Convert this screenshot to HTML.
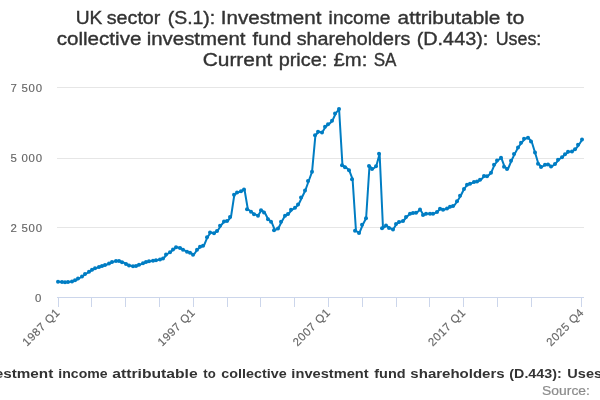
<!DOCTYPE html>
<html><head><meta charset="utf-8"><title>UK sector (S.1): Investment income attributable to collective investment fund shareholders (D.443): Uses: Current price: £m: SA</title>
<style>
html,body{margin:0;padding:0;background:#fff;}
body{width:600px;height:400px;overflow:hidden;font-family:"Liberation Sans",sans-serif;}
svg{display:block;overflow:hidden;will-change:transform;font-family:"Liberation Sans",sans-serif;}
</style></head><body>
<svg width="600" height="400" viewBox="0 0 600 400">
<rect x="0" y="0" width="600" height="400" fill="#ffffff"/>
<g fill="none" stroke="#e6e6e6" stroke-width="1"><path d="M 57 87.5 L 584 87.5"/><path d="M 57 158.5 L 584 158.5"/><path d="M 57 227.5 L 584 227.5"/></g>
<g fill="none" stroke="#ccd6eb" stroke-width="1"><path d="M 57 297.5 L 584 297.5"/><path d="M 58.5 297 L 58.5 307"/><path d="M 91.5 297 L 91.5 307"/><path d="M 125.5 297 L 125.5 307"/><path d="M 159.5 297 L 159.5 307"/><path d="M 193.5 297 L 193.5 307"/><path d="M 227.5 297 L 227.5 307"/><path d="M 260.5 297 L 260.5 307"/><path d="M 294.5 297 L 294.5 307"/><path d="M 328.5 297 L 328.5 307"/><path d="M 362.5 297 L 362.5 307"/><path d="M 396.5 297 L 396.5 307"/><path d="M 429.5 297 L 429.5 307"/><path d="M 463.5 297 L 463.5 307"/><path d="M 497.5 297 L 497.5 307"/><path d="M 531.5 297 L 531.5 307"/><path d="M 581.5 297 L 581.5 307"/></g>
<g><path d="M 58.69 281.80 L 62.07 282.10 L 65.45 282.20 L 68.82 282.10 L 72.20 281.50 L 75.58 280.30 L 78.96 278.50 L 82.34 276.50 L 85.71 274.00 L 89.09 271.80 L 92.47 269.80 L 95.85 268.30 L 99.23 267.00 L 102.61 266.00 L 105.98 265.00 L 109.36 263.50 L 112.74 261.90 L 116.12 261.10 L 119.50 261.10 L 122.88 262.20 L 126.25 264.00 L 129.63 265.50 L 133.01 266.20 L 136.39 266.00 L 139.77 264.80 L 143.14 263.20 L 146.52 262.00 L 149.90 261.20 L 153.28 260.70 L 156.66 260.30 L 160.04 259.50 L 163.41 258.50 L 166.79 254.50 L 170.17 252.20 L 173.55 249.50 L 176.93 247.20 L 180.30 248.00 L 183.68 249.80 L 187.06 251.80 L 190.44 252.80 L 193.82 254.70 L 197.20 249.70 L 200.57 246.70 L 203.95 245.70 L 207.33 237.30 L 210.71 232.50 L 214.09 233.20 L 217.46 231.00 L 220.84 225.70 L 224.22 221.50 L 227.60 221.00 L 230.98 217.00 L 234.36 194.70 L 237.73 192.50 L 241.11 191.20 L 244.49 189.50 L 247.87 209.30 L 251.25 211.80 L 254.62 214.20 L 258.00 215.70 L 261.38 210.20 L 264.76 212.50 L 268.14 219.30 L 271.52 221.80 L 274.89 230.20 L 278.27 228.50 L 281.65 221.80 L 285.03 215.80 L 288.41 214.00 L 291.79 209.80 L 295.16 207.80 L 298.54 204.50 L 301.92 197.50 L 305.30 190.50 L 308.68 181.00 L 312.05 171.80 L 315.43 135.20 L 318.81 131.80 L 322.19 132.50 L 325.57 126.80 L 328.95 124.30 L 332.32 120.80 L 335.70 113.50 L 339.08 109.00 L 342.46 165.30 L 345.84 167.20 L 349.21 170.30 L 352.59 179.20 L 355.97 230.80 L 359.35 233.00 L 362.73 224.80 L 366.11 218.30 L 369.48 166.00 L 372.86 169.00 L 376.24 166.30 L 379.62 153.80 L 383.00 228.20 L 386.38 225.60 L 389.75 228.00 L 393.13 229.50 L 396.51 224.00 L 399.89 222.00 L 403.27 221.00 L 406.64 217.00 L 410.02 213.70 L 413.40 213.00 L 416.78 212.80 L 420.16 209.50 L 423.54 215.00 L 426.91 213.80 L 430.29 213.80 L 433.67 213.80 L 437.05 211.90 L 440.43 208.70 L 443.80 209.80 L 447.18 208.50 L 450.56 206.80 L 453.94 206.00 L 457.32 201.20 L 460.70 195.80 L 464.07 189.00 L 467.45 184.70 L 470.83 183.70 L 474.21 182.00 L 477.59 181.50 L 480.96 179.70 L 484.34 176.10 L 487.72 176.30 L 491.10 172.80 L 494.48 164.80 L 497.86 160.50 L 501.23 157.70 L 504.61 166.80 L 507.99 169.00 L 511.37 160.80 L 514.75 153.90 L 518.12 147.50 L 521.50 142.80 L 524.88 138.80 L 528.26 137.80 L 531.64 141.50 L 535.02 152.50 L 538.39 163.70 L 541.77 167.00 L 545.15 164.80 L 548.53 164.50 L 551.91 166.50 L 555.29 163.90 L 558.66 159.80 L 562.04 157.20 L 565.42 154.30 L 568.80 151.70 L 572.18 151.50 L 575.55 149.20 L 578.93 144.80 L 582.31 139.50" fill="none" stroke="#007dc3" stroke-width="2" stroke-linejoin="round" stroke-linecap="round"/>
<g fill="#007dc3"><circle cx="58" cy="281.80" r="2"/><circle cx="62" cy="282.10" r="2"/><circle cx="65" cy="282.20" r="2"/><circle cx="68" cy="282.10" r="2"/><circle cx="72" cy="281.50" r="2"/><circle cx="75" cy="280.30" r="2"/><circle cx="78" cy="278.50" r="2"/><circle cx="82" cy="276.50" r="2"/><circle cx="85" cy="274.00" r="2"/><circle cx="89" cy="271.80" r="2"/><circle cx="92" cy="269.80" r="2"/><circle cx="95" cy="268.30" r="2"/><circle cx="99" cy="267.00" r="2"/><circle cx="102" cy="266.00" r="2"/><circle cx="105" cy="265.00" r="2"/><circle cx="109" cy="263.50" r="2"/><circle cx="112" cy="261.90" r="2"/><circle cx="116" cy="261.10" r="2"/><circle cx="119" cy="261.10" r="2"/><circle cx="122" cy="262.20" r="2"/><circle cx="126" cy="264.00" r="2"/><circle cx="129" cy="265.50" r="2"/><circle cx="133" cy="266.20" r="2"/><circle cx="136" cy="266.00" r="2"/><circle cx="139" cy="264.80" r="2"/><circle cx="143" cy="263.20" r="2"/><circle cx="146" cy="262.00" r="2"/><circle cx="149" cy="261.20" r="2"/><circle cx="153" cy="260.70" r="2"/><circle cx="156" cy="260.30" r="2"/><circle cx="160" cy="259.50" r="2"/><circle cx="163" cy="258.50" r="2"/><circle cx="166" cy="254.50" r="2"/><circle cx="170" cy="252.20" r="2"/><circle cx="173" cy="249.50" r="2"/><circle cx="176" cy="247.20" r="2"/><circle cx="180" cy="248.00" r="2"/><circle cx="183" cy="249.80" r="2"/><circle cx="187" cy="251.80" r="2"/><circle cx="190" cy="252.80" r="2"/><circle cx="193" cy="254.70" r="2"/><circle cx="197" cy="249.70" r="2"/><circle cx="200" cy="246.70" r="2"/><circle cx="203" cy="245.70" r="2"/><circle cx="207" cy="237.30" r="2"/><circle cx="210" cy="232.50" r="2"/><circle cx="214" cy="233.20" r="2"/><circle cx="217" cy="231.00" r="2"/><circle cx="220" cy="225.70" r="2"/><circle cx="224" cy="221.50" r="2"/><circle cx="227" cy="221.00" r="2"/><circle cx="230" cy="217.00" r="2"/><circle cx="234" cy="194.70" r="2"/><circle cx="237" cy="192.50" r="2"/><circle cx="241" cy="191.20" r="2"/><circle cx="244" cy="189.50" r="2"/><circle cx="247" cy="209.30" r="2"/><circle cx="251" cy="211.80" r="2"/><circle cx="254" cy="214.20" r="2"/><circle cx="258" cy="215.70" r="2"/><circle cx="261" cy="210.20" r="2"/><circle cx="264" cy="212.50" r="2"/><circle cx="268" cy="219.30" r="2"/><circle cx="271" cy="221.80" r="2"/><circle cx="274" cy="230.20" r="2"/><circle cx="278" cy="228.50" r="2"/><circle cx="281" cy="221.80" r="2"/><circle cx="285" cy="215.80" r="2"/><circle cx="288" cy="214.00" r="2"/><circle cx="291" cy="209.80" r="2"/><circle cx="295" cy="207.80" r="2"/><circle cx="298" cy="204.50" r="2"/><circle cx="301" cy="197.50" r="2"/><circle cx="305" cy="190.50" r="2"/><circle cx="308" cy="181.00" r="2"/><circle cx="312" cy="171.80" r="2"/><circle cx="315" cy="135.20" r="2"/><circle cx="318" cy="131.80" r="2"/><circle cx="322" cy="132.50" r="2"/><circle cx="325" cy="126.80" r="2"/><circle cx="328" cy="124.30" r="2"/><circle cx="332" cy="120.80" r="2"/><circle cx="335" cy="113.50" r="2"/><circle cx="339" cy="109.00" r="2"/><circle cx="342" cy="165.30" r="2"/><circle cx="345" cy="167.20" r="2"/><circle cx="349" cy="170.30" r="2"/><circle cx="352" cy="179.20" r="2"/><circle cx="355" cy="230.80" r="2"/><circle cx="359" cy="233.00" r="2"/><circle cx="362" cy="224.80" r="2"/><circle cx="366" cy="218.30" r="2"/><circle cx="369" cy="166.00" r="2"/><circle cx="372" cy="169.00" r="2"/><circle cx="376" cy="166.30" r="2"/><circle cx="379" cy="153.80" r="2"/><circle cx="382" cy="228.20" r="2"/><circle cx="386" cy="225.60" r="2"/><circle cx="389" cy="228.00" r="2"/><circle cx="393" cy="229.50" r="2"/><circle cx="396" cy="224.00" r="2"/><circle cx="399" cy="222.00" r="2"/><circle cx="403" cy="221.00" r="2"/><circle cx="406" cy="217.00" r="2"/><circle cx="410" cy="213.70" r="2"/><circle cx="413" cy="213.00" r="2"/><circle cx="416" cy="212.80" r="2"/><circle cx="420" cy="209.50" r="2"/><circle cx="423" cy="215.00" r="2"/><circle cx="426" cy="213.80" r="2"/><circle cx="430" cy="213.80" r="2"/><circle cx="433" cy="213.80" r="2"/><circle cx="437" cy="211.90" r="2"/><circle cx="440" cy="208.70" r="2"/><circle cx="443" cy="209.80" r="2"/><circle cx="447" cy="208.50" r="2"/><circle cx="450" cy="206.80" r="2"/><circle cx="453" cy="206.00" r="2"/><circle cx="457" cy="201.20" r="2"/><circle cx="460" cy="195.80" r="2"/><circle cx="464" cy="189.00" r="2"/><circle cx="467" cy="184.70" r="2"/><circle cx="470" cy="183.70" r="2"/><circle cx="474" cy="182.00" r="2"/><circle cx="477" cy="181.50" r="2"/><circle cx="480" cy="179.70" r="2"/><circle cx="484" cy="176.10" r="2"/><circle cx="487" cy="176.30" r="2"/><circle cx="491" cy="172.80" r="2"/><circle cx="494" cy="164.80" r="2"/><circle cx="497" cy="160.50" r="2"/><circle cx="501" cy="157.70" r="2"/><circle cx="504" cy="166.80" r="2"/><circle cx="507" cy="169.00" r="2"/><circle cx="511" cy="160.80" r="2"/><circle cx="514" cy="153.90" r="2"/><circle cx="518" cy="147.50" r="2"/><circle cx="521" cy="142.80" r="2"/><circle cx="524" cy="138.80" r="2"/><circle cx="528" cy="137.80" r="2"/><circle cx="531" cy="141.50" r="2"/><circle cx="535" cy="152.50" r="2"/><circle cx="538" cy="163.70" r="2"/><circle cx="541" cy="167.00" r="2"/><circle cx="545" cy="164.80" r="2"/><circle cx="548" cy="164.50" r="2"/><circle cx="551" cy="166.50" r="2"/><circle cx="555" cy="163.90" r="2"/><circle cx="558" cy="159.80" r="2"/><circle cx="562" cy="157.20" r="2"/><circle cx="565" cy="154.30" r="2"/><circle cx="568" cy="151.70" r="2"/><circle cx="572" cy="151.50" r="2"/><circle cx="575" cy="149.20" r="2"/><circle cx="578" cy="144.80" r="2"/><circle cx="582" cy="139.50" r="2"/></g></g>
<text y="23.7" font-size="18.7px" font-weight="normal" fill="#333" stroke="#333" stroke-width="0.38"><tspan x="75.65" textLength="26.70" lengthAdjust="spacingAndGlyphs">UK</tspan> <tspan x="106.69" textLength="53.72" lengthAdjust="spacingAndGlyphs">sector</tspan> <tspan x="167.69" textLength="47.58" lengthAdjust="spacingAndGlyphs">(S.1):</tspan> <tspan x="220.75" textLength="100.70" lengthAdjust="spacingAndGlyphs">Investment</tspan> <tspan x="328.63" textLength="61.78" lengthAdjust="spacingAndGlyphs">income</tspan> <tspan x="397.63" textLength="102.78" lengthAdjust="spacingAndGlyphs">attributable</tspan> <tspan x="506.59" textLength="17.78" lengthAdjust="spacingAndGlyphs">to</tspan></text>
<text y="44.7" font-size="18.7px" font-weight="normal" fill="#333" stroke="#333" stroke-width="0.38"><tspan x="56.69" textLength="84.72" lengthAdjust="spacingAndGlyphs">collective</tspan> <tspan x="146.69" textLength="98.78" lengthAdjust="spacingAndGlyphs">investment</tspan> <tspan x="252.53" textLength="38.84" lengthAdjust="spacingAndGlyphs">fund</tspan> <tspan x="296.69" textLength="113.68" lengthAdjust="spacingAndGlyphs">shareholders</tspan> <tspan x="416.69" textLength="71.62" lengthAdjust="spacingAndGlyphs">(D.443):</tspan> <tspan x="495.69" textLength="45.62" lengthAdjust="spacingAndGlyphs">Uses:</tspan></text>
<text y="65.7" font-size="18.7px" font-weight="normal" fill="#333" stroke="#333" stroke-width="0.38"><tspan x="202.65" textLength="69.76" lengthAdjust="spacingAndGlyphs">Current</tspan> <tspan x="278.69" textLength="48.62" lengthAdjust="spacingAndGlyphs">price:</tspan> <tspan x="333.63" textLength="33.68" lengthAdjust="spacingAndGlyphs">£m:</tspan> <tspan x="373.69" textLength="22.72" lengthAdjust="spacingAndGlyphs">SA</tspan></text>
<text x="10.50" y="91.70" font-size="11.4px" fill="#666" stroke="#666" stroke-width="0.15" textLength="31.50" lengthAdjust="spacing">7 500</text>
<text x="10.50" y="161.70" font-size="11.4px" fill="#666" stroke="#666" stroke-width="0.15" textLength="31.50" lengthAdjust="spacing">5 000</text>
<text x="10.50" y="231.70" font-size="11.4px" fill="#666" stroke="#666" stroke-width="0.15" textLength="31.50" lengthAdjust="spacing">2 500</text>
<text x="35.00" y="301.70" font-size="11.4px" fill="#666" stroke="#666" stroke-width="0.15" textLength="7.00" lengthAdjust="spacing">0</text>
<text x="13.30" y="313.40" font-size="11.4px" fill="#666" stroke="#666" stroke-width="0.15" textLength="47.00" lengthAdjust="spacing" transform="rotate(-45 60.30 313.40)">1987 Q1</text>
<text x="148.53" y="313.40" font-size="11.4px" fill="#666" stroke="#666" stroke-width="0.15" textLength="47.00" lengthAdjust="spacing" transform="rotate(-45 195.53 313.40)">1997 Q1</text>
<text x="283.75" y="313.40" font-size="11.4px" fill="#666" stroke="#666" stroke-width="0.15" textLength="47.00" lengthAdjust="spacing" transform="rotate(-45 330.75 313.40)">2007 Q1</text>
<text x="418.98" y="313.40" font-size="11.4px" fill="#666" stroke="#666" stroke-width="0.15" textLength="47.00" lengthAdjust="spacing" transform="rotate(-45 465.98 313.40)">2017 Q1</text>
<text x="537.30" y="313.40" font-size="11.4px" fill="#666" stroke="#666" stroke-width="0.15" textLength="47.00" lengthAdjust="spacing" transform="rotate(-45 584.30 313.40)">2025 Q4</text>
<text y="377.8" font-size="12.5px" font-weight="bold" fill="#333"><tspan x="-141.62" textLength="20.88" lengthAdjust="spacingAndGlyphs">UK</tspan> <tspan x="-117.62" textLength="44.95" lengthAdjust="spacingAndGlyphs">sector</tspan> <tspan x="-69.62" textLength="39.78" lengthAdjust="spacingAndGlyphs">(S.1):</tspan> <tspan x="-27.32" textLength="80.55" lengthAdjust="spacingAndGlyphs">Investment</tspan> <tspan x="58.38" textLength="49.25" lengthAdjust="spacingAndGlyphs">income</tspan> <tspan x="112.38" textLength="85.25" lengthAdjust="spacingAndGlyphs">attributable</tspan> <tspan x="203.28" textLength="12.43" lengthAdjust="spacingAndGlyphs">to</tspan> <tspan x="221.38" textLength="65.25" lengthAdjust="spacingAndGlyphs">collective</tspan> <tspan x="291.38" textLength="77.31" lengthAdjust="spacingAndGlyphs">investment</tspan> <tspan x="374.27" textLength="31.35" lengthAdjust="spacingAndGlyphs">fund</tspan> <tspan x="410.38" textLength="94.25" lengthAdjust="spacingAndGlyphs">shareholders</tspan> <tspan x="509.38" textLength="52.25" lengthAdjust="spacingAndGlyphs">(D.443):</tspan> <tspan x="567.38" textLength="39.45" lengthAdjust="spacingAndGlyphs">Uses:</tspan> <tspan x="610.38" textLength="54.55" lengthAdjust="spacingAndGlyphs">Current</tspan> <tspan x="667.38" textLength="41.23" lengthAdjust="spacingAndGlyphs">price:</tspan> <tspan x="711.38" textLength="27.80" lengthAdjust="spacingAndGlyphs">£m:</tspan> <tspan x="742.38" textLength="19.84" lengthAdjust="spacingAndGlyphs">SA</tspan></text>
<text y="394.6" font-size="12.4px" font-weight="normal" fill="#8c8c8c" stroke="#8c8c8c" stroke-width="0.2"><tspan x="542.13" textLength="47.74" lengthAdjust="spacingAndGlyphs">Source:</tspan></text>
</svg>
</body></html>
